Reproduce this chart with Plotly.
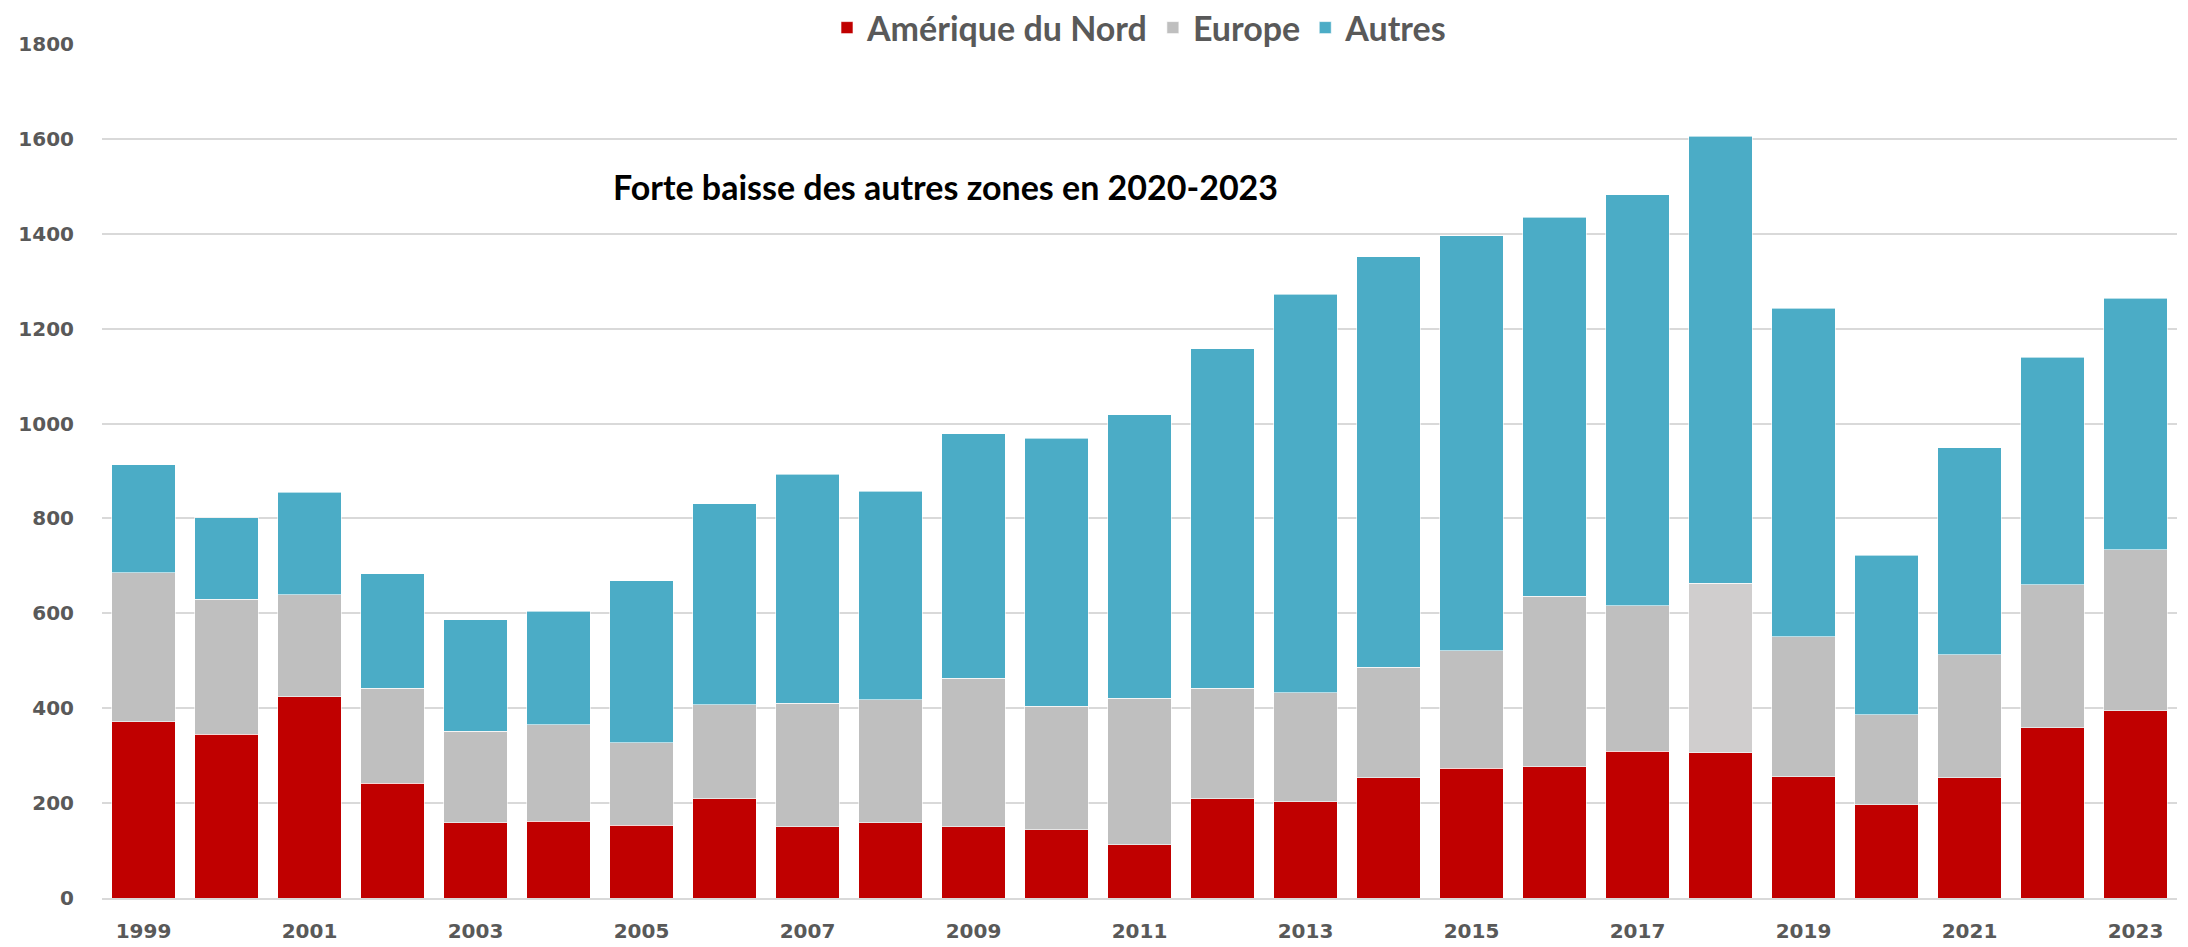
import plotly.graph_objects as go

years = [str(y) for y in range(1999, 2024)]
amerique_nord = [371, 345, 424, 242, 159, 162, 153, 209, 150, 159, 150, 144, 112, 209, 203, 253, 274, 277, 309, 306, 256, 197, 253, 359, 395]
europe = [315, 285, 215, 200, 192, 203, 174, 198, 260, 259, 313, 260, 309, 233, 230, 233, 247, 359, 307, 357, 295, 189, 260, 301, 339]
autres = [227, 172, 216, 241, 235, 239, 342, 424, 483, 439, 515, 565, 598, 716, 840, 866, 875, 799, 866, 943, 692, 336, 436, 480, 530]
tick_years = [str(y) for y in range(1999, 2024, 2)]
annotation_text = "Forte baisse des autres zones en 2020-2023"

RED = "#C00000"
GREY = "#BFBFBF"
GREY_LIGHT = "#D0CECE"
BLUE = "#4BACC6"

europe_colors = [GREY_LIGHT if y == "2018" else GREY for y in years]
edge = dict(color="rgba(255,255,255,0.6)", width=1)

fig = go.Figure()
fig.add_trace(go.Bar(x=years, y=amerique_nord, name="Amérique du Nord", marker=dict(color=RED, line=edge)))
fig.add_trace(go.Bar(x=years, y=europe, name="Europe", marker=dict(color=europe_colors, line=edge)))
fig.add_trace(go.Bar(x=years, y=autres, name="Autres", marker=dict(color=BLUE, line=edge)))

# page body has an 8px default margin, so figure coords are shifted by 8px
fig.update_layout(
    barmode="stack",
    bargap=0.23,
    width=2188, height=947,
    margin=dict(l=94, r=19, t=36, b=57, autoexpand=False),
    plot_bgcolor="white", paper_bgcolor="white",
    showlegend=True,
    legend=dict(orientation="h", x=0.5, xanchor="center",
                yref="container", y=1 - 20 / 947, yanchor="middle",
                font=dict(family="Lato", size=34, color="#595959", weight="bold"),
                traceorder="normal", bgcolor="rgba(0,0,0,0)", borderwidth=0),
    annotations=[dict(text=annotation_text, xref="paper", yref="paper",
                      x=(611 - 102) / 2075, y=(898 - 186) / 854.5, xanchor="left", yanchor="middle",
                      showarrow=False,
                      font=dict(family="Lato", size=34, color="black", weight="bold"))],
)
fig.update_xaxes(type="category", tickvals=tick_years, ticktext=tick_years, automargin=False,
                 showgrid=False, showline=True, linecolor="#D9D9D9", linewidth=2,
                 ticks="outside", ticklen=14, tickcolor="rgba(0,0,0,0)",
                 tickfont=dict(family="DejaVu Sans", size=20, color="#595959", weight="bold"))
fig.update_yaxes(range=[0, 1800], dtick=200, showgrid=True, gridcolor="#D9D9D9", gridwidth=1.5,
                 zeroline=False, automargin=False, ticks="outside", ticklen=23, tickcolor="rgba(0,0,0,0)",
                 tickfont=dict(family="DejaVu Sans", size=20, color="#595959", weight="bold"))

fig.write_html("out.html")
